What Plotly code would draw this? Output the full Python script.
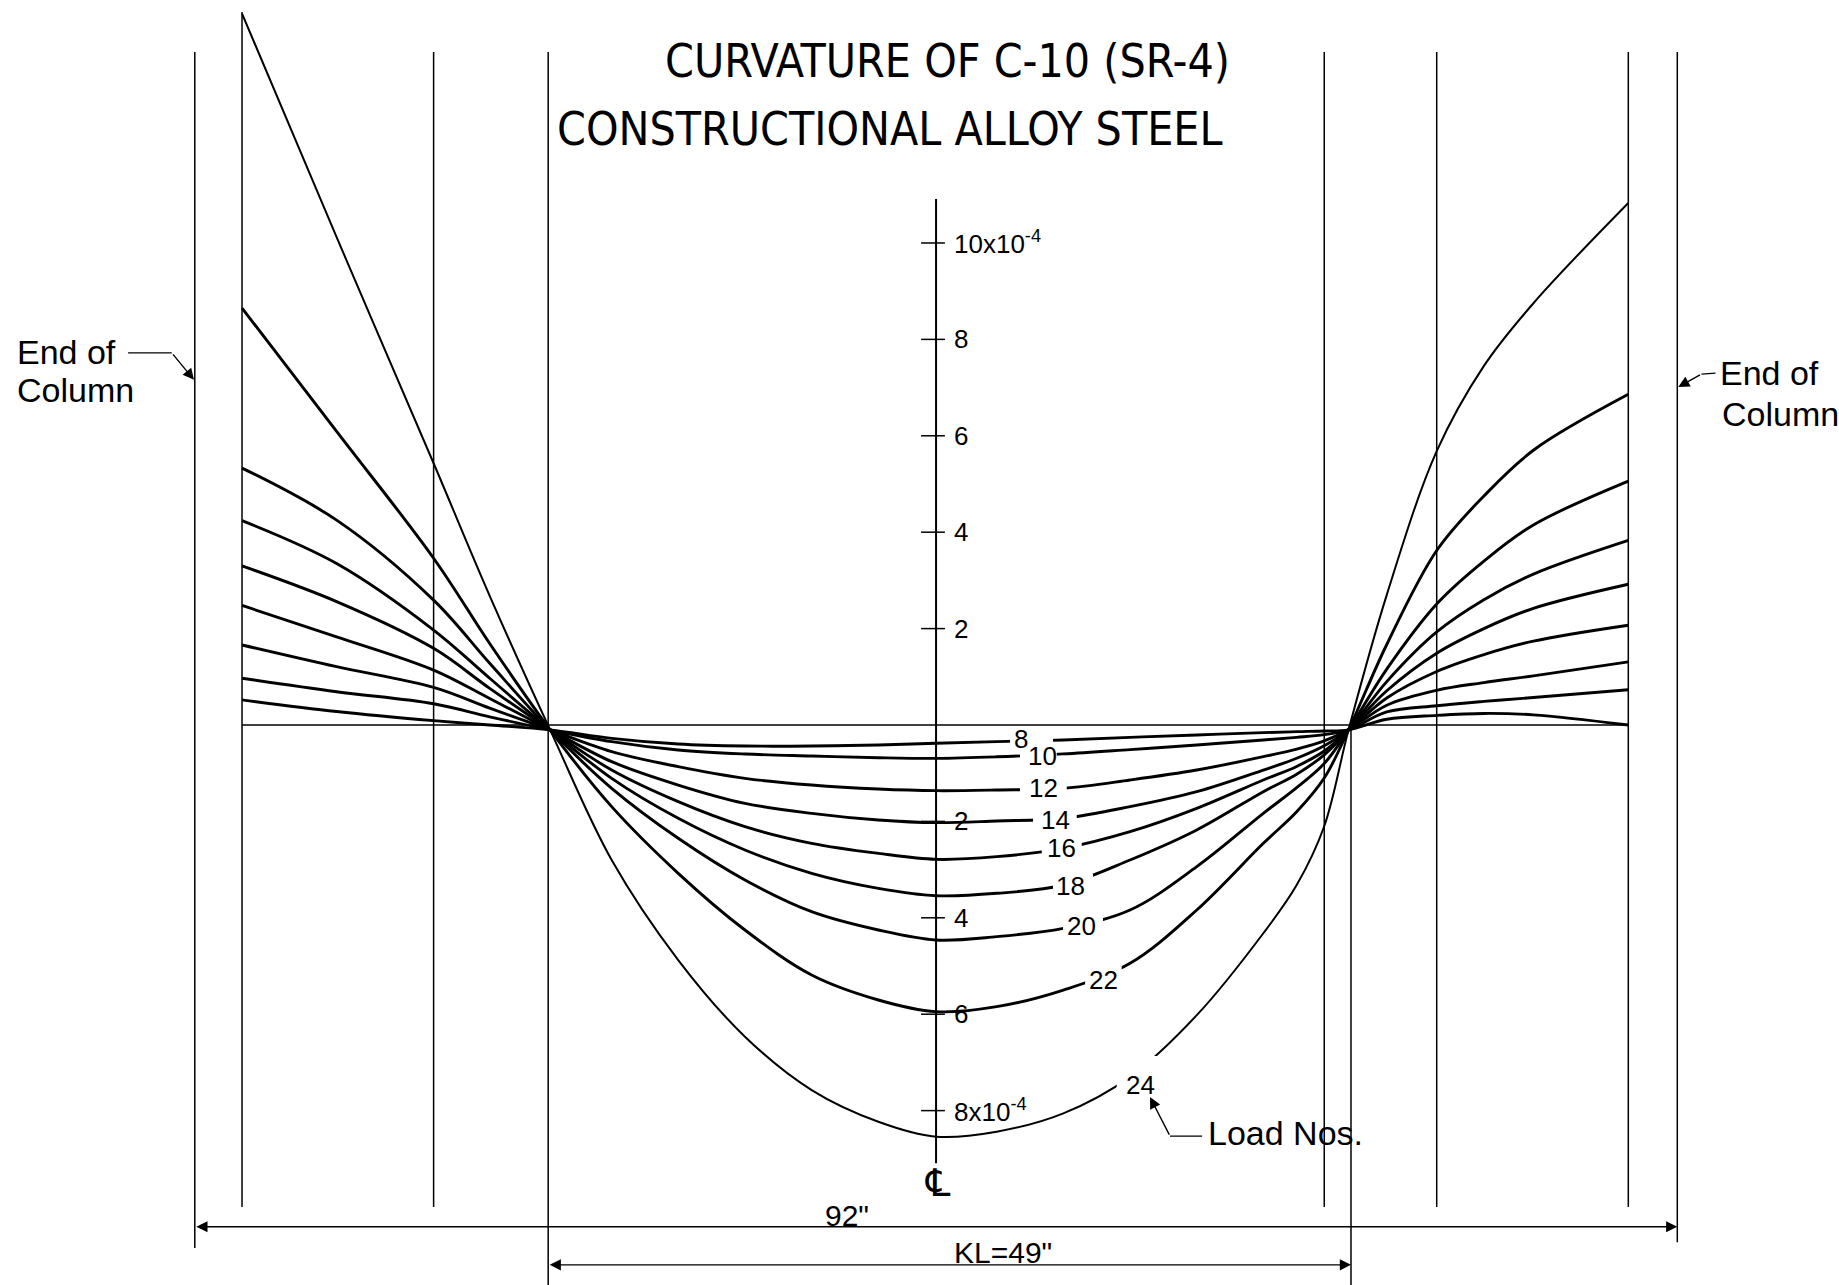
import plotly.graph_objects as go

# ---------------- data ----------------
# positions along the column, inches from the centre line (CL)
x_in = [-43.07, -37.2, -31.18, -27.7, -23.95, -20.13, -16.0, -11.86, -7.72, -3.58, 0.0,
        3.76, 7.90, 12.04, 16.18, 20.31, 22.38, 24.09, 25.6, 27.97, 31.07, 34.0, 37.07, 42.96]

load_nos = [8, 10, 12, 14, 16, 18, 20, 22, 24]

# curvature x 10^-4 for each load number
curv_8 = [0.52, 0.28, 0.09, 0.0, -0.10, -0.277, -0.394, -0.436, -0.436, -0.415, -0.38,
          -0.346, -0.311, -0.256, -0.207, -0.159, -0.138, -0.124, -0.10, 0.12, 0.20, 0.24, 0.21, 0.0]
curv_10 = [0.97, 0.69, 0.44, 0.17, -0.10, -0.346, -0.519, -0.602, -0.643, -0.678, -0.692,
           -0.66, -0.60, -0.51, -0.415, -0.311, -0.256, -0.20, -0.10, 0.27, 0.40, 0.49, 0.57, 0.73]
curv_12 = [1.66, 1.21, 0.78, 0.35, -0.10, -0.553, -0.864, -1.107, -1.245, -1.328, -1.362,
           -1.349, -1.314, -1.141, -0.934, -0.657, -0.50, -0.33, -0.10, 0.41, 0.72, 0.88, 1.02, 1.31]
curv_14 = [2.48, 1.83, 1.14, 0.55, -0.10, -0.76, -1.245, -1.625, -1.833, -1.971, -2.026,
           -1.992, -1.936, -1.694, -1.383, -0.934, -0.69, -0.43, -0.10, 0.56, 1.11, 1.46, 1.74, 2.07]
curv_16 = [3.30, 2.56, 1.59, 0.76, -0.10, -0.934, -1.591, -2.109, -2.455, -2.663, -2.787,
           -2.732, -2.559, -2.213, -1.729, -1.141, -0.86, -0.54, -0.10, 0.71, 1.49, 2.00, 2.42, 2.92]
curv_18 = [4.24, 3.35, 1.97, 0.97, -0.10, -1.107, -1.936, -2.593, -3.077, -3.389, -3.541,
           -3.492, -3.320, -2.801, -2.178, -1.383, -1.02, -0.62, -0.10, 0.90, 1.93, 2.60, 3.13, 3.83]
curv_20 = [5.33, 4.25, 2.59, 1.28, -0.10, -1.314, -2.351, -3.216, -3.873, -4.253, -4.461,
           -4.391, -4.219, -3.838, -2.939, -1.833, -1.30, -0.80, -0.10, 1.16, 2.51, 3.40, 4.15, 5.06]
curv_22 = [8.65, 6.09, 3.46, 1.69, -0.10, -1.694, -3.077, -4.253, -5.187, -5.705, -5.947,
           -5.844, -5.498, -4.945, -3.838, -2.455, -1.80, -1.10, -0.10, 1.67, 3.62, 4.75, 5.70, 6.86]
curv_24 = [14.76, 10.12, 5.43, 2.68, -0.10, -2.801, -4.876, -6.466, -7.573, -8.23, -8.54,
           -8.437, -8.057, -7.30, -6.02, -4.32, -3.32, -2.10, -0.10, 2.70, 5.68, 7.45, 8.75, 10.83]

curves = [curv_8, curv_10, curv_12, curv_14, curv_16, curv_18, curv_20, curv_22, curv_24]

# load-number label positions (x in, curvature) and the gap they open in each curve
label_x = [5.25, 6.62, 6.64, 7.44, 7.80, 8.32, 9.04, 10.38, 12.66]
label_y = [-0.29, -0.64, -1.31, -1.97, -2.56, -3.35, -4.18, -5.29, -7.47]
gap_x0 = [4.59, 5.21, 5.21, 6.02, 6.56, 7.26, 7.88, 9.25, 11.21]
gap_x1 = [7.26, 7.49, 8.11, 8.73, 9.04, 9.74, 10.36, 11.52, 14.21]
gap_y0 = [-0.104, -0.498, -1.037, -1.722, -2.303, -3.091, -3.880, -4.979, -6.867]
gap_y1 = [-0.477, -0.851, -1.556, -2.241, -2.801, -3.631, -4.461, -5.622, -7.946]

# centre-line curvature scale
tick_up = [2, 4, 6, 8, 10]
tick_up_text = ["2", "4", "6", "8", "10x10<sup>-4</sup>"]
tick_dn = [-2, -4, -6, -8]
tick_dn_text = ["2", "4", "6", "8x10<sup>-4</sup>"]

# vertical station / end lines: x, top, bottom
vline_x = [-46.0, -43.07, -31.18, -24.07, 24.09, 31.07, 42.96, 46.0, 25.75]
vline_top = [13.96, 14.79, 13.96, 13.96, 13.96, 13.96, 13.96, 13.96, 0.0]
vline_bot = [-10.85, -10.0, -10.0, -11.62, -10.0, -10.0, -10.0, -10.73, -11.62]

# ---------------- figure ----------------
FONT = "Liberation Sans, Arial, sans-serif"
NARROW = "Liberation Sans Narrow, DejaVu Sans Condensed, Arial Narrow, Liberation Sans, sans-serif"

fig = go.Figure()
for n, v in zip(load_nos, curves):
    fig.add_trace(go.Scatter(
        x=x_in, y=v, mode="lines", hoverinfo="skip", showlegend=False,
        line=dict(color="black", width=2.0 if n == 24 else 2.9, shape="spline", smoothing=1.0)))

shapes = []
# white gaps where load numbers sit on the curves
for a, b, c, d in zip(gap_x0, gap_x1, gap_y0, gap_y1):
    shapes.append(dict(type="rect", xref="x", yref="y", x0=a, x1=b, y0=c, y1=d,
                       fillcolor="white", line=dict(width=0), layer="above"))
# zero line
shapes.append(dict(type="line", xref="x", yref="y", x0=-43.07, x1=42.96, y0=0, y1=0,
                   line=dict(color="black", width=1.3), layer="above"))
# vertical lines
for xv, t, b in zip(vline_x, vline_top, vline_bot):
    shapes.append(dict(type="line", xref="x", yref="y", x0=xv, x1=xv, y0=b, y1=t,
                       line=dict(color="black", width=1.5), layer="above"))
# centre-line scale axis
shapes.append(dict(type="line", xref="x", yref="y", x0=0, x1=0, y0=-9.09, y1=10.91,
                   line=dict(color="black", width=2.0), layer="above"))
for t in tick_up + tick_dn:
    shapes.append(dict(type="line", xref="x", yref="y", x0=-0.93, x1=0.55, y0=t, y1=t,
                       line=dict(color="black", width=1.5), layer="above"))
# leader lines (straight parts)
shapes.append(dict(type="line", xref="x", yref="y", x0=-50.14, x1=-47.43, y0=7.72, y1=7.72,
                   line=dict(color="black", width=1.3), layer="above"))
shapes.append(dict(type="line", xref="x", yref="y", x0=48.37, x1=47.50, y0=7.30, y1=7.28,
                   line=dict(color="black", width=1.3), layer="above"))
shapes.append(dict(type="line", xref="x", yref="y", x0=16.51, x1=14.52, y0=-8.53, y1=-8.53,
                   line=dict(color="black", width=1.3), layer="above"))

ann = []
def txt(x, y, s, size, xanchor="center", family=FONT, bg=None):
    d = dict(x=x, y=y, xref="x", yref="y", text=s, showarrow=False, xanchor=xanchor,
             yanchor="middle", font=dict(family=family, size=size, color="black"))
    if bg:
        d["bgcolor"] = bg
    ann.append(d)

def arrow(x, y, ax, ay, side="end", head=2):
    ann.append(dict(x=x, y=y, ax=ax, ay=ay, xref="x", yref="y", axref="x", ayref="y",
                    text="", showarrow=True, arrowhead=head, startarrowhead=head,
                    arrowside=side, arrowsize=1.6, arrowwidth=1.4, arrowcolor="black",
                    standoff=0, startstandoff=0))

# titles
txt(0.74, 13.78, "CURVATURE OF C-10 (SR-4)", 46, family=NARROW)
txt(-2.85, 12.37, "CONSTRUCTIONAL ALLOY STEEL", 46, family=NARROW)

# scale labels
for t, s in zip(tick_up, tick_up_text):
    txt(1.0, t, s, 26, xanchor="left")
for t, s in zip(tick_dn, tick_dn_text):
    txt(1.0, t, s, 26, xanchor="left")

# load numbers
for lx, ly, n in zip(label_x, label_y, load_nos):
    txt(lx, ly, str(n), 26)

# End of Column notes
txt(-57.16, 7.745, "End of", 34, xanchor="left")
txt(-57.16, 6.95, "Column", 34, xanchor="left")
arrow(-46.05, 7.16, -47.43, 7.72)
txt(48.50, 7.30, "End of", 34, xanchor="left")
txt(48.63, 6.45, "Column", 34, xanchor="left")
arrow(46.06, 7.01, 47.50, 7.28)

# Load Nos.
txt(16.75, -8.46, "Load Nos.", 34, xanchor="left")
arrow(13.28, -7.72, 14.52, -8.53)

# centre line symbol
txt(0.1, -9.50, "\u2104", 38, family="DejaVu Sans, sans-serif")

# dimensions
arrow(46.0, -10.41, -46.0, -10.41, side="end+start")
txt(-5.5, -10.17, "92\"", 30)
arrow(25.75, -11.20, -24.07, -11.20, side="end+start")
txt(4.15, -10.95, "KL=49\"", 30)

fig.update_layout(
    width=1839, height=1285, autosize=False,
    margin=dict(l=0, r=0, t=0, b=0, pad=0),
    paper_bgcolor="white", plot_bgcolor="white",
    showlegend=False, shapes=shapes, annotations=ann,
    xaxis=dict(range=[-58.089, 56.035], visible=False, fixedrange=True),
    yaxis=dict(range=[-11.618, 15.041], visible=False, fixedrange=True),
)

fig.write_html("out.html")
